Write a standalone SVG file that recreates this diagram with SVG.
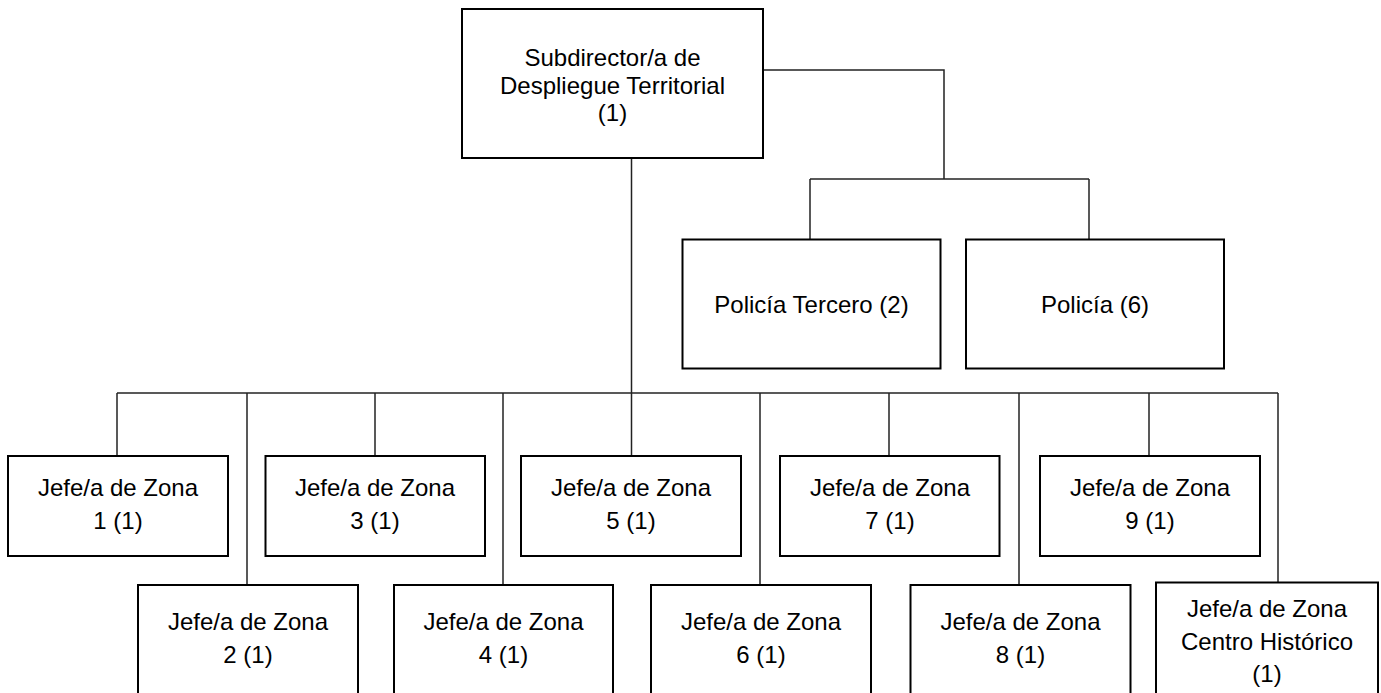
<svg xmlns="http://www.w3.org/2000/svg" width="1381" height="693" viewBox="0 0 1381 693">
<style>
.box{fill:#fff;stroke:#000;stroke-width:2}
.t{font-family:"Liberation Sans",Arial,sans-serif;font-size:24px;fill:#000;text-anchor:middle}
.c{fill:none;stroke:#222;stroke-width:1.5}
</style>
<rect width="1381" height="693" fill="#fff"/>
<g id="connectors">
<polyline class="c" points="763,70 944,70 944,179"/>
<line class="c" x1="810" y1="179" x2="1089" y2="179"/>
<line class="c" x1="810" y1="179" x2="810" y2="239.5"/>
<line class="c" x1="1089" y1="179" x2="1089" y2="239.5"/>
<line class="c" x1="631.5" y1="158" x2="631.5" y2="456"/>
<line class="c" x1="117" y1="393" x2="1278" y2="393"/>
<line class="c" x1="117" y1="393" x2="117" y2="456"/>
<line class="c" x1="375" y1="393" x2="375" y2="456"/>
<line class="c" x1="889" y1="393" x2="889" y2="456"/>
<line class="c" x1="1149" y1="393" x2="1149" y2="456"/>
<line class="c" x1="247" y1="393" x2="247" y2="585"/>
<line class="c" x1="503" y1="393" x2="503" y2="585"/>
<line class="c" x1="760" y1="393" x2="760" y2="585"/>
<line class="c" x1="1019" y1="393" x2="1019" y2="585"/>
<line class="c" x1="1278" y1="393" x2="1278" y2="582.5"/>
</g>
<g id="subdirector">
<rect class="box" x="462" y="9" width="301" height="149"/>
<text class="t" x="612.5" y="66">Subdirector/a de</text>
<text class="t" x="612.5" y="94">Despliegue Territorial</text>
<text class="t" x="612.5" y="121">(1)</text>
</g>
<g id="policia-tercero">
<rect class="box" x="682.5" y="239.5" width="258" height="129"/>
<text class="t" x="811.5" y="313">Policía Tercero (2)</text>
</g>
<g id="policia">
<rect class="box" x="966" y="239.5" width="258" height="129"/>
<text class="t" x="1095" y="313">Policía (6)</text>
</g>
<g id="zona1">
<rect class="box" x="8" y="456" width="220" height="100"/>
<text class="t" x="118" y="496">Jefe/a de Zona</text>
<text class="t" x="118" y="529">1 (1)</text>
</g>
<g id="zona3">
<rect class="box" x="265.5" y="456" width="219.5" height="100"/>
<text class="t" x="375" y="496">Jefe/a de Zona</text>
<text class="t" x="375" y="529">3 (1)</text>
</g>
<g id="zona5">
<rect class="box" x="521" y="456" width="220" height="100"/>
<text class="t" x="631" y="496">Jefe/a de Zona</text>
<text class="t" x="631" y="529">5 (1)</text>
</g>
<g id="zona7">
<rect class="box" x="780" y="456" width="219.5" height="100"/>
<text class="t" x="890" y="496">Jefe/a de Zona</text>
<text class="t" x="890" y="529">7 (1)</text>
</g>
<g id="zona9">
<rect class="box" x="1040" y="456" width="220" height="100"/>
<text class="t" x="1150" y="496">Jefe/a de Zona</text>
<text class="t" x="1150" y="529">9 (1)</text>
</g>
<g id="zona2">
<rect class="box" x="138" y="585" width="220" height="120"/>
<text class="t" x="248" y="630">Jefe/a de Zona</text>
<text class="t" x="248" y="663">2 (1)</text>
</g>
<g id="zona4">
<rect class="box" x="394" y="585" width="219" height="120"/>
<text class="t" x="503.5" y="630">Jefe/a de Zona</text>
<text class="t" x="503.5" y="663">4 (1)</text>
</g>
<g id="zona6">
<rect class="box" x="651" y="585" width="220" height="120"/>
<text class="t" x="761" y="630">Jefe/a de Zona</text>
<text class="t" x="761" y="663">6 (1)</text>
</g>
<g id="zona8">
<rect class="box" x="910.5" y="585" width="220" height="120"/>
<text class="t" x="1020.5" y="630">Jefe/a de Zona</text>
<text class="t" x="1020.5" y="663">8 (1)</text>
</g>
<g id="zona-centro-historico">
<rect class="box" x="1156" y="582.5" width="222" height="120"/>
<text class="t" x="1267" y="617">Jefe/a de Zona</text>
<text class="t" x="1267" y="650">Centro Histórico</text>
<text class="t" x="1267" y="682">(1)</text>
</g>
</svg>
